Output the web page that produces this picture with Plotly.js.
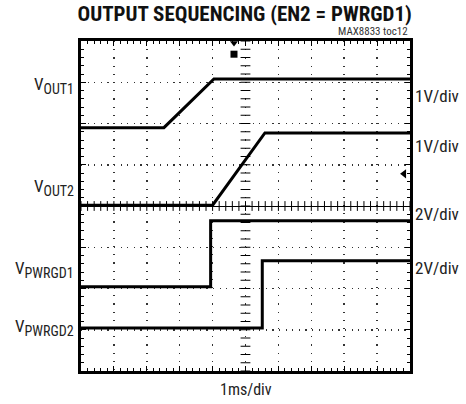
<!DOCTYPE html>
<html>
<head>
<meta charset="utf-8">
<script src="https://cdn.plot.ly/plotly-3.0.1.min.js"></script>
<style>html,body{margin:0;padding:0;background:#fff;}#chart{width:466px;height:404px;}</style>
</head>
<body>
<div id="chart"></div>
<script>
// Time axis in ms (1 ms/div), screen levels in divisions relative to centre
const vout1Time = [-5, -2.48, -0.96, 5];
const vout1Level = [1.90, 1.90, 3.08, 3.08];
const vout2Time = [-5, -1.00, 0.59, 5];
const vout2Level = [0.02, 0.02, 1.77, 1.77];
const pwrgd1Time = [-5, -1.06, -1.06, 5];
const pwrgd1Level = [-1.96, -1.96, -0.36, -0.36];
const pwrgd2Time = [-5, 0.51, 0.51, 5];
const pwrgd2Level = [-2.96, -2.96, -1.33, -1.33];

const leftLabelSubs = ["OUT1", "OUT2", "PWRGD1", "PWRGD2"];
const leftLabelLevels = [2.93, 0.45, -1.55, -2.95];
const rightLabels = ["1V/div", "1V/div", "2V/div", "2V/div"];
const rightLabelLevels = [2.66, 1.45, -0.2, -1.5];

const FONT = "'Liberation Sans Narrow', 'Roboto Condensed', 'Arial Narrow', Roboto, sans-serif";

// centre graticule tick marks
const hTickX = [], vTickY = [];
for (let i = -25; i <= 25; i++) hTickX.push(i * 0.2);
for (let i = -20; i <= 20; i++) vTickY.push(i * 0.2);

function trace(x, y, w) {
  return {x: x, y: y, type: 'scatter', mode: 'lines', line: {color: '#000', width: w}, hoverinfo: 'skip', showlegend: false};
}

const data = [
  {x: hTickX, y: hTickX.map(() => 0), type: 'scatter', mode: 'markers', marker: {symbol: 'line-ns', size: 7, line: {color: '#000', width: 1}}, showlegend: false, hoverinfo: 'skip'},
  {x: vTickY.map(() => 0), y: vTickY, type: 'scatter', mode: 'markers', marker: {symbol: 'line-ew', size: 7, line: {color: '#000', width: 1}}, showlegend: false, hoverinfo: 'skip'},
  trace(vout1Time, vout1Level, 3),
  trace(vout2Time, vout2Level, 3),
  trace(pwrgd1Time, pwrgd1Level, 3),
  trace(pwrgd2Time, pwrgd2Level, 3),
  {x: [-0.35], y: [3.68], type: 'scatter', mode: 'markers', marker: {symbol: 'square', size: 7, color: '#000'}, showlegend: false, hoverinfo: 'skip'},
  {x: [-0.35], y: [3.95], type: 'scatter', mode: 'markers', marker: {symbol: 'triangle-down', size: 7, color: '#000'}, showlegend: false, hoverinfo: 'skip', cliponaxis: false},
  {x: [4.82], y: [0.78], type: 'scatter', mode: 'markers', marker: {symbol: 'triangle-left', size: 8, color: '#000'}, showlegend: false, hoverinfo: 'skip'}
];

const annotations = [];
leftLabelSubs.forEach((s, i) => annotations.push({
  text: 'V<sub><span style="font-size:14px">' + s + '</span></sub>', xref: 'paper', yref: 'y', x: -0.02, xshift: 2, y: leftLabelLevels[i], xanchor: 'right', yanchor: 'middle',
  showarrow: false, font: {family: FONT, size: 17, color: '#222'}
}));
rightLabels.forEach((t, i) => annotations.push({
  text: t, xref: 'paper', yref: 'y', x: 1.008, y: rightLabelLevels[i], xanchor: 'left', yanchor: 'middle',
  showarrow: false, font: {family: FONT, size: 17, color: '#222'}
}));
annotations.push({text: 'MAX8833 toc12', xref: 'paper', yref: 'paper', x: 1.0, y: 1.0, xanchor: 'right', yanchor: 'bottom', yshift: 1, showarrow: false, font: {family: FONT, size: 11, color: '#333'}});
annotations.push({text: '1ms/div', xref: 'paper', yref: 'paper', x: 0.5, y: 0, xanchor: 'center', yanchor: 'top', yshift: -7, showarrow: false, font: {family: FONT, size: 16, color: '#222'}});

const axisCommon = {
  showgrid: true, gridcolor: '#333', gridwidth: 1.5,
  showline: true, linecolor: '#000', linewidth: 3, mirror: 'allticks',
  ticks: 'inside', ticklen: 5, tickcolor: '#000', tickwidth: 1,
  showticklabels: false, zeroline: false, fixedrange: true,
  minor: {ticks: 'inside', ticklen: 3, tickcolor: '#000', tickwidth: 1, dtick: 0.2, showgrid: false}
};

const layout = {
  width: 466, height: 404,
  margin: {l: 81, r: 56, t: 41, b: 33},
  paper_bgcolor: '#fff', plot_bgcolor: '#fff',
  title: {text: '<b>OUTPUT SEQUENCING (EN2 = PWRGD1)</b>', x: 0.525, xanchor: 'center', y: 0.965, yanchor: 'middle', font: {family: FONT, size: 21, color: '#111'}},
  xaxis: Object.assign({}, axisCommon, {range: [-5, 5], dtick: 1, tick0: 0, griddash: '1.2px,7px'}),
  yaxis: Object.assign({}, axisCommon, {range: [-4, 4], dtick: 1, tick0: 0, griddash: '1.2px,5.4px', zeroline: true, zerolinecolor: '#000', zerolinewidth: 1}),
  annotations: annotations,
  showlegend: false
};

Plotly.newPlot('chart', data, layout, {staticPlot: true, displayModeBar: false});
</script>
</body>
</html>
